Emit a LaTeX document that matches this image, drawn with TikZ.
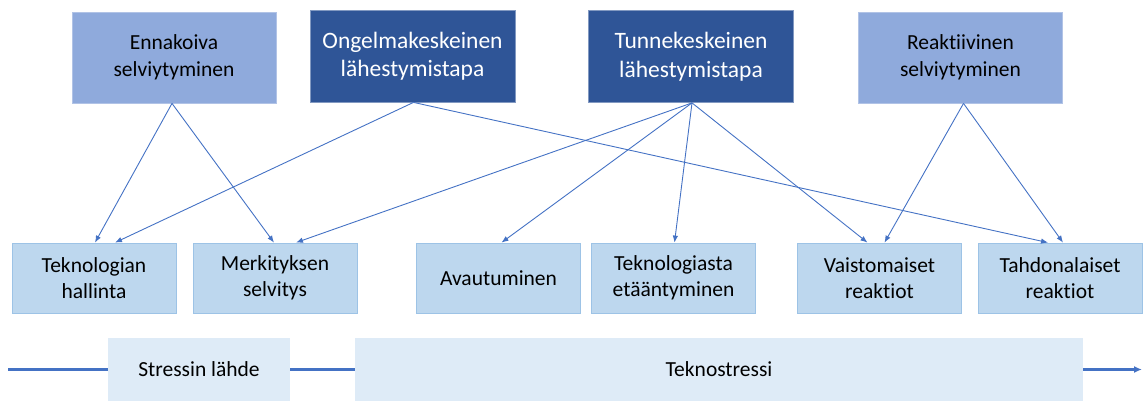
\documentclass[tikz,border=0pt]{standalone}
\usepackage{fontspec}
\setmainfont{Carlito}[Ligatures={CommonOff,ContextualOff}]
\usetikzlibrary{arrows.meta,calc}
\definecolor{lightTop}{HTML}{8FAADC}
\definecolor{darkTop}{HTML}{2F5597}
\definecolor{lowBox}{HTML}{BDD7EE}
\definecolor{lowBorder}{HTML}{9DC3E6}
\definecolor{barFill}{HTML}{DEEBF7}
\definecolor{lineBlue}{HTML}{4472C4}
\tikzset{
  topbox/.style={draw=lightTop!70!white, line width=0.8pt, fill=lightTop, minimum width=204pt, minimum height=91pt, align=center, inner sep=0pt, text=black, font=\fontsize{21.5}{26.5}\selectfont},
  darkbox/.style={draw=darkTop!60!white, line width=0.8pt, fill=darkTop, minimum width=205pt, minimum height=92pt, align=center, inner sep=0pt, text=white, font=\fontsize{23.5}{28.5}\selectfont},
  lowbox/.style={draw=lowBorder, line width=0.8pt, fill=lowBox, minimum width=164pt, minimum height=70pt, align=center, inner sep=0pt, text=black, font=\fontsize{21.5}{26.5}\selectfont},
  barbox/.style={fill=barFill, minimum height=63pt, align=center, inner sep=0pt, text=black, font=\fontsize{21.5}{26.5}\selectfont},
  link/.style={draw=lineBlue, line width=0.9pt, -{Latex[length=7pt,width=5.5pt]}},
  timeline/.style={draw=lineBlue, line width=2.2pt}
}
\begin{document}
\begin{tikzpicture}[x=1pt,y=-1pt]
\useasboundingbox (0,0) rectangle (1143,401);
% top row
\node[topbox] (enn) at (174,57.5) {Ennakoiva\\selviytyminen};
\node[darkbox] (ong) at (412.5,56) {Ongelmakeskeinen\\lähestymistapa};
\node[darkbox] (tun) at (691,56.5) {Tunnekeskeinen\\lähestymistapa};
\node[topbox] (rea) at (960.5,57.5) {Reaktiivinen\\selviytyminen};
% bottom row
\node[lowbox] (thal) at (94,278) {Teknologian\\hallinta};
\node[lowbox] (mer) at (275,278) {Merkityksen\\selvitys};
\node[lowbox] (ava) at (498.5,278) {Avautuminen};
\node[lowbox] (tet) at (673.5,278) {Teknologiasta\\etääntyminen};
\node[lowbox] (vai) at (879.5,278) {Vaistomaiset\\reaktiot};
\node[lowbox] (tah) at (1060,278) {Tahdonalaiset\\reaktiot};
% bar
\node[barbox, minimum width=182pt] (str) at (199,369.5) {Stressin lähde};
\node[barbox, minimum width=728pt] (tek) at (719,369.5) {Teknostressi};
\coordinate (lstart) at (8,369.5);
\coordinate (lend) at (1142,369.5);
\draw[timeline] (lstart) -- (str.west);
\draw[timeline] (str.east) -- (tek.west);
\draw[timeline, -{Latex[length=8pt,width=7pt]}] (tek.east) -- (lend);
% connectors
\draw[link] ($(enn.south)+(-2,0)$) -- ($(thal.north)+(1,0)$);
\draw[link] ($(enn.south)+(-2,0)$) -- ($(mer.north)+(-1,0)$);
\draw[link] ($(ong.south)+(1,0)$) -- ($(thal.north)+(21,0)$);
\draw[link] ($(ong.south)+(1,0)$) -- ($(tah.north)+(-12,0)$);
\draw[link] ($(tun.south)+(1,0)$) -- ($(mer.north)+(21,0)$);
\draw[link] ($(tun.south)+(1,0)$) -- ($(ava.north)+(3,0)$);
\draw[link] ($(tun.south)+(1,0)$) -- ($(tet.north)+(1,0)$);
\draw[link] ($(tun.south)+(1,0)$) -- ($(vai.north)+(-12,0)$);
\draw[link] ($(rea.south)+(3,0)$) -- ($(vai.north)+(5,0)$);
\draw[link] ($(rea.south)+(3,0)$) -- ($(tah.north)+(3,0)$);
\end{tikzpicture}
\end{document}
